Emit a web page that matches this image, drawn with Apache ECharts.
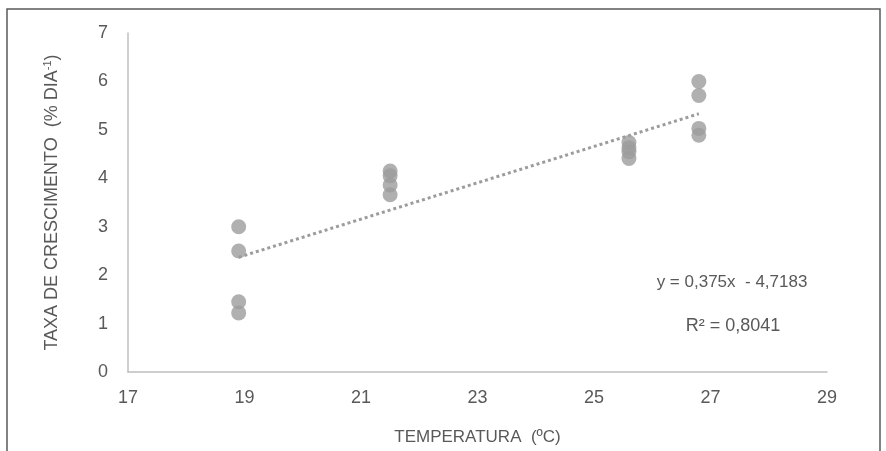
<!DOCTYPE html>
<html><head><meta charset="utf-8">
<script src="https://cdn.jsdelivr.net/npm/echarts@6/dist/echarts.min.js"></script>
<style>html,body{margin:0;padding:0;background:#fff}#c{width:886px;height:451px}</style>
</head><body><div id="c"></div>
<script>
const temps = [18.9, 18.9, 18.9, 18.9, 21.5, 21.5, 21.5, 21.5, 25.6, 25.6, 25.6, 25.6, 26.8, 26.8, 26.8, 26.8];
const rates = [3.0, 2.5, 1.45, 1.22, 4.15, 4.05, 3.86, 3.66, 4.74, 4.63, 4.55, 4.41, 6.0, 5.71, 5.03, 4.89];
const trendSlope = 0.375;
const trendIntercept = -4.7183;
const trendRange = [18.9, 26.8];
const xTicks = [17, 19, 21, 23, 25, 27, 29];
const yTicks = [0, 1, 2, 3, 4, 5, 6, 7];
const eqLabel = 'y = 0,375x  - 4,7183';
const r2Label = 'R² = 0,8041';

const font = "'Liberation Sans',Arial,sans-serif";
const txt = '#595959';
const chart = echarts.init(document.getElementById('c'), null, {renderer: 'canvas'});
chart.setOption({
  animation: false,
  grid: {left: 128, right: 59, top: 33, bottom: 78},
  graphic: [
    {type: 'rect', shape: {x: 7, y: 9, width: 873, height: 460}, style: {fill: 'none', stroke: '#5a5a5a', lineWidth: 1.5}, z: 0},
    {type: 'text', x: 732, y: 282, style: {text: eqLabel, fill: txt, align: 'center', verticalAlign: 'middle', font: "17px 'Liberation Sans',sans-serif"}},
    {type: 'text', x: 733, y: 326, style: {text: r2Label, fill: txt, align: 'center', verticalAlign: 'middle', font: "18px 'Liberation Sans',sans-serif"}}
  ],
  xAxis: {
    type: 'value', min: xTicks[0], max: xTicks[xTicks.length - 1], interval: 2,
    splitLine: {show: false},
    axisLine: {lineStyle: {color: '#bfbfbf', width: 1.5}},
    axisTick: {show: false},
    axisLabel: {color: txt, fontSize: 18, fontFamily: font, margin: 17},
    name: 'TEMPERATURA  (ºC)', nameLocation: 'middle', nameGap: 57,
    nameTextStyle: {color: txt, fontSize: 17, fontFamily: font}
  },
  yAxis: {
    type: 'value', min: yTicks[0], max: yTicks[yTicks.length - 1], interval: 1,
    splitLine: {show: false},
    axisLine: {show: true, lineStyle: {color: '#bfbfbf', width: 1.5}},
    axisTick: {show: false},
    axisLabel: {color: txt, fontSize: 18, fontFamily: font, margin: 20},
    name: '{a|TAXA DE CRESCIMENTO  (% DIA}{s|-1}{a|)}', nameLocation: 'middle', nameGap: 66,
    nameTextStyle: {
      rich: {
        a: {color: txt, fontSize: 18, fontFamily: font},
        s: {color: txt, fontSize: 11, fontFamily: font, verticalAlign: 'top', padding: [0, 0, 9, 0]}
      }
    }
  },
  series: [
    {
      type: 'scatter', symbolSize: 15,
      itemStyle: {color: '#9c9c9c'},
      data: temps.map((t, i) => [t, rates[i]]), z: 3
    },
    {
      type: 'line', symbol: 'none', silent: true,
      lineStyle: {color: '#9c9c9c', width: 3, type: [3, 3]},
      data: trendRange.map(x => [x, trendSlope * x + trendIntercept]), z: 4
    }
  ]
});
</script></body></html>
